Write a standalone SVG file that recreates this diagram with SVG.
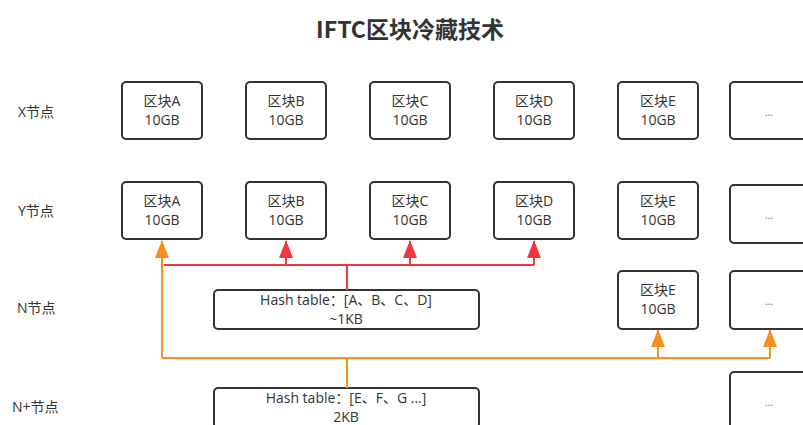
<svg xmlns="http://www.w3.org/2000/svg" width="803" height="425" viewBox="0 0 803 425">
<style>
.box{fill:#fff;stroke:#333;stroke-width:2}
.t{font-family:"Open Sans","Noto Sans CJK SC",sans-serif;font-size:14px;fill:#333;text-anchor:middle}
.lbl{font-family:"Open Sans","Noto Sans CJK SC",sans-serif;font-size:14px;fill:#333}
.dots{font-family:"Open Sans",sans-serif;font-size:10px;fill:#666;text-anchor:middle}
.red{fill:none;stroke:#f2383b;stroke-width:2}
.org{fill:none;stroke:#f7901e;stroke-width:2}
</style>
<defs>
<marker id="ar" viewBox="0 0 18 14" refX="17" refY="7" markerWidth="18" markerHeight="14" markerUnits="userSpaceOnUse" orient="auto">
<path d="M18 7 L0 0 L0 14 Z" fill="#f2383b"/>
</marker>
<marker id="ao" viewBox="0 0 18 14" refX="17" refY="7" markerWidth="18" markerHeight="14" markerUnits="userSpaceOnUse" orient="auto">
<path d="M18 7 L0 0 L0 14 Z" fill="#f7901e"/>
</marker>
</defs>
<rect width="803" height="425" fill="#fff"/>
<text x="410" y="38" font-family="Noto Sans CJK SC,Noto Sans,sans-serif" font-size="23" font-weight="bold" fill="#333" text-anchor="middle">IFTC区块冷藏技术</text>
<g id="labels">
<text class="lbl" x="18" y="117">X节点</text>
<text class="lbl" x="18" y="216">Y节点</text>
<text class="lbl" x="17" y="313">N节点</text>
<text class="lbl" x="12" y="412">N+节点</text>
</g>
<g id="x-row">
<g id="xA"><rect class="box" x="122" y="82" width="80" height="57" rx="4"/><text class="t" x="162" y="106">区块A</text><text class="t" x="162" y="125">10GB</text></g>
<g id="xB"><rect class="box" x="246" y="82" width="80" height="57" rx="4"/><text class="t" x="286" y="106">区块B</text><text class="t" x="286" y="125">10GB</text></g>
<g id="xC"><rect class="box" x="370" y="82" width="80" height="57" rx="4"/><text class="t" x="410" y="106">区块C</text><text class="t" x="410" y="125">10GB</text></g>
<g id="xD"><rect class="box" x="494" y="82" width="80" height="57" rx="4"/><text class="t" x="534" y="106">区块D</text><text class="t" x="534" y="125">10GB</text></g>
<g id="xE"><rect class="box" x="618" y="82" width="80" height="57" rx="4"/><text class="t" x="658" y="106">区块E</text><text class="t" x="658" y="125">10GB</text></g>
<g id="xM"><rect class="box" x="730" y="82" width="80" height="57" rx="4"/><text class="dots" x="769" y="116">...</text></g>
</g>
<g id="y-row">
<g id="yA"><rect class="box" x="122" y="182" width="80" height="57" rx="4"/><text class="t" x="162" y="206">区块A</text><text class="t" x="162" y="225">10GB</text></g>
<g id="yB"><rect class="box" x="246" y="182" width="80" height="57" rx="4"/><text class="t" x="286" y="206">区块B</text><text class="t" x="286" y="225">10GB</text></g>
<g id="yC"><rect class="box" x="370" y="182" width="80" height="57" rx="4"/><text class="t" x="410" y="206">区块C</text><text class="t" x="410" y="225">10GB</text></g>
<g id="yD"><rect class="box" x="494" y="182" width="80" height="57" rx="4"/><text class="t" x="534" y="206">区块D</text><text class="t" x="534" y="225">10GB</text></g>
<g id="yE"><rect class="box" x="618" y="182" width="80" height="57" rx="4"/><text class="t" x="658" y="206">区块E</text><text class="t" x="658" y="225">10GB</text></g>
<g id="yM"><rect class="box" x="730" y="185" width="80" height="58" rx="4"/><text class="dots" x="769" y="219">...</text></g>
</g>
<g id="n-row">
<g id="nH"><rect class="box" x="214" y="290" width="265" height="39" rx="4"/><text class="t" x="346" y="305">Hash table：[A、B、C、D]</text><text class="t" x="346" y="324">~1KB</text></g>
<g id="nE"><rect class="box" x="618" y="271" width="80" height="58" rx="4"/><text class="t" x="658" y="295">区块E</text><text class="t" x="658" y="314">10GB</text></g>
<g id="nM"><rect class="box" x="730" y="271" width="80" height="58" rx="4"/><text class="dots" x="769" y="305">...</text></g>
</g>
<g id="np-row">
<g id="npH"><rect class="box" x="214" y="388" width="265" height="40" rx="4"/><text class="t" x="346" y="403">Hash table：[E、F、G ...]</text><text class="t" x="346" y="422">2KB</text></g>
<g id="npM"><rect class="box" x="730" y="372" width="80" height="58" rx="4"/><text class="dots" x="769" y="406">...</text></g>
</g>
<g id="connectors">
<path class="red" d="M347 290 V265"/>
<path class="red" d="M164 265 H534"/>
<path class="red" d="M286 265 V241" marker-end="url(#ar)"/>
<path class="red" d="M410 265 V241" marker-end="url(#ar)"/>
<path class="red" d="M534 265 V241" marker-end="url(#ar)"/>
<path class="org" d="M347 388 V358"/>
<path class="org" d="M162 358 H770"/>
<path class="org" d="M162 358 V241" marker-end="url(#ao)"/>
<path class="org" d="M658 358 V330" marker-end="url(#ao)"/>
<path class="org" d="M770 358 V330" marker-end="url(#ao)"/>
</g>
</svg>
